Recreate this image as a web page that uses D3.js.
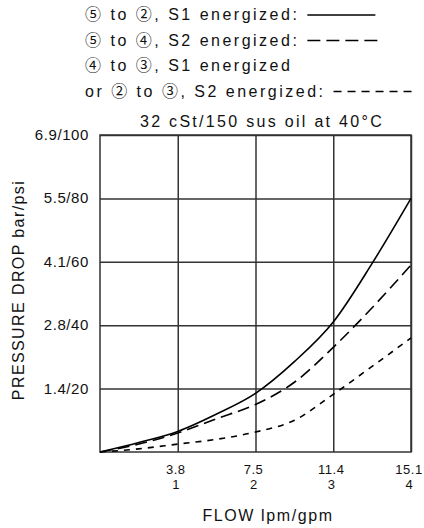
<!DOCTYPE html>
<html>
<head>
<meta charset="utf-8">
<script src="https://cdn.jsdelivr.net/npm/d3@7"></script>
<style>
  body { margin: 0; background: #fff; }
  text { font-family: "Liberation Sans", Arial, "Noto Sans CJK JP", sans-serif; fill: #111; }
</style>
</head>
<body>
<div class="chart"></div>
<script>
// flow in gpm, pressure drop in psi
const flow = [0, 0.5, 1, 1.5, 2, 2.5, 3, 3.5, 4];
const s1Path = [0, 3, 6.5, 12, 18.5, 28.5, 41, 59.5, 80];
const s2Path = [0, 2.5, 6, 10.5, 15, 22, 33, 45.5, 59];
const crossPath = [0, 1, 2.5, 4, 6.3, 10, 18.2, 27, 36];

const yTicks = [20, 40, 60, 80, 100];
const yTickLabels = ["1.4/20", "2.8/40", "4.1/60", "5.5/80", "6.9/100"];
const xTicks = [1, 2, 3, 4];
const xTickLpm = ["3.8", "7.5", "11.4", "15.1"];
const xTickGpm = ["1", "2", "3", "4"];

const legendRows = [
  { text: "⑤ to ②, S1 energized:", dash: null, len: 68 },
  { text: "⑤ to ④, S2 energized:", dash: "13,6", len: 70 },
  { text: "④ to ③, S1 energized", dash: "none", len: 0 },
  { text: "or ② to ③, S2 energized:", dash: "8,6", len: 80 },
];
const title = "32 cSt/150 sus oil at 40°C";

const W = 424, H = 528;
const margin = { top: 135, right: 13, bottom: 76, left: 100 };
const width = W - margin.left - margin.right,
  height = H - margin.top - margin.bottom;

const svg = d3.select(".chart").append("svg")
  .attr("width", W).attr("height", H);

const x = d3.scaleLinear().domain([0, 4]).range([0, width]);
const y = d3.scaleLinear().domain([0, 100]).range([height, 0]);

const g = svg.append("g")
  .attr("transform", `translate(${margin.left},${margin.top})`);

// grid
g.append("g")
  .call(d3.axisLeft(y).tickValues(yTicks).tickSize(-width).tickFormat(""))
  .call((a) => a.select(".domain").remove())
  .call((a) => a.selectAll(".tick line").attr("stroke", "#333").attr("stroke-width", 1.5));
g.append("g")
  .attr("transform", `translate(0,${height})`)
  .call(d3.axisBottom(x).tickValues(xTicks).tickSize(-height).tickFormat(""))
  .call((a) => a.select(".domain").remove())
  .call((a) => a.selectAll(".tick line").attr("stroke", "#333").attr("stroke-width", 1.5));
g.append("rect")
  .attr("width", width).attr("height", height)
  .attr("fill", "none").attr("stroke", "#333").attr("stroke-width", 1.5);

// y labels
g.selectAll(".ylab").data(yTicks).enter().append("text")
  .attr("x", -11).attr("y", (d) => y(d) + 5)
  .attr("text-anchor", "end").attr("font-size", 15).attr("letter-spacing", 0.6)
  .text((d, i) => yTickLabels[i]);

// x labels
g.selectAll(".xlab").data(xTicks).enter().append("text")
  .attr("x", (d) => x(d) - 2).attr("y", height + 22)
  .attr("text-anchor", "middle").attr("font-size", 13).attr("letter-spacing", 0.5)
  .text((d, i) => xTickLpm[i]);
g.selectAll(".xlab2").data(xTicks).enter().append("text")
  .attr("x", (d) => x(d) - 2).attr("y", height + 37)
  .attr("text-anchor", "middle").attr("font-size", 13)
  .text((d, i) => xTickGpm[i]);

// axis titles
svg.append("text")
  .attr("transform", "translate(24,290) rotate(-90)")
  .attr("text-anchor", "middle").attr("font-size", 16).attr("letter-spacing", 1.4)
  .text("PRESSURE DROP bar/psi");
svg.append("text")
  .attr("x", 268).attr("y", 521)
  .attr("text-anchor", "middle").attr("font-size", 16).attr("letter-spacing", 1.6)
  .text("FLOW lpm/gpm");

// curves
const line = d3.line()
  .x((d) => x(d[0])).y((d) => y(d[1]))
  .curve(d3.curveMonotoneX);
const series = [
  { values: s1Path, dash: null },
  { values: s2Path, dash: "12,6" },
  { values: crossPath, dash: "6,6" },
];
g.selectAll(".curve").data(series).enter().append("path")
  .attr("d", (s) => line(flow.map((f, i) => [f, s.values[i]])))
  .attr("fill", "none").attr("stroke", "#000").attr("stroke-width", 1.6)
  .attr("stroke-dasharray", (s) => s.dash);

// legend
const legend = svg.append("g").attr("transform", "translate(85,0)");
legendRows.forEach((row, i) => {
  const yy = 20 + i * 25.5;
  const t = legend.append("text")
    .attr("x", 0).attr("y", yy)
    .attr("font-size", 16).attr("letter-spacing", 2.5)
    .text(row.text);
  if (row.dash === "none") return;
  const x0 = t.node().getComputedTextLength() + 8;
  legend.append("line")
    .attr("x1", x0).attr("x2", x0 + row.len)
    .attr("y1", yy - 5).attr("y2", yy - 5)
    .attr("stroke", "#000").attr("stroke-width", 1.3)
    .attr("stroke-dasharray", row.dash);
});

svg.append("text")
  .attr("x", 262).attr("y", 127)
  .attr("text-anchor", "middle").attr("font-size", 16).attr("letter-spacing", 2.3)
  .text(title);
</script>
</body>
</html>
